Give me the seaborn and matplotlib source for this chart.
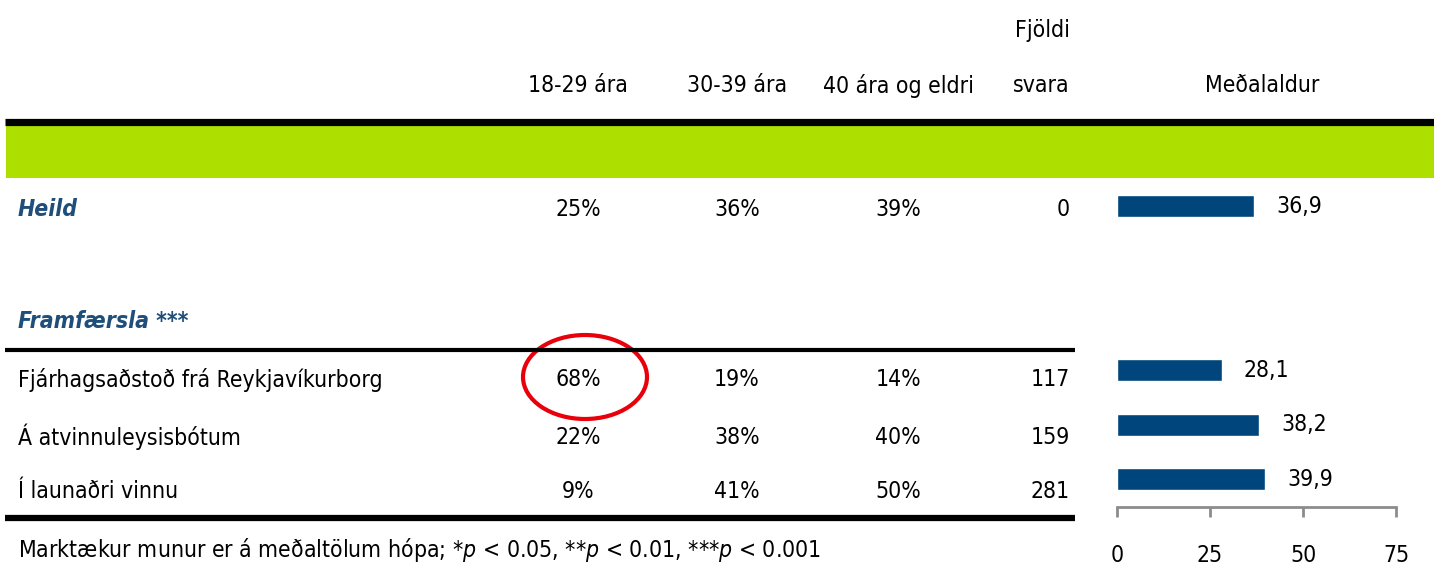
import pandas as pd
import matplotlib
matplotlib.use('Agg')
import matplotlib.pyplot as plt
import seaborn as sns
from matplotlib import font_manager
from matplotlib.patches import Ellipse

# data
col_labels = ['18-29 ára', '30-39 ára', '40 ára og eldri']
total_label = 'Heild'
total_pct = [25, 36, 39]
total_n = 0
total_mean = 36.9
group_title = 'Framfærsla ***'
group_labels = ['Fjárhagsaðstoð frá Reykjavíkurborg', 'Á atvinnuleysisbótum', 'Í launaðri vinnu']
group_pct = [[68, 19, 14], [22, 38, 40], [9, 41, 50]]
group_n = [117, 159, 281]
group_mean = [28.1, 38.2, 39.9]
x_ticks = [0, 25, 50, 75]
footnote = 'Marktækur munur er á meðaltölum hópa; *$p$ < 0.05, **$p$ < 0.01, ***$p$ < 0.001'

sns.set_theme(style='white')
names = {f.name for f in font_manager.fontManager.ttflist}
condensed = any(f.name == 'DejaVu Sans' and f.stretch == 'condensed'
                for f in font_manager.fontManager.ttflist)
narrow = 'Liberation Sans Narrow' if 'Liberation Sans Narrow' in names else 'DejaVu Sans'
plt.rcParams['font.family'] = [narrow, 'DejaVu Sans']
plt.rcParams['font.stretch'] = 'condensed'
plt.rcParams['text.color'] = 'black'
plt.rcParams['xtick.color'] = 'black'
plt.rcParams['mathtext.fontset'] = 'custom'
plt.rcParams['mathtext.rm'] = narrow
plt.rcParams['mathtext.it'] = narrow + ':italic'
if narrow != 'DejaVu Sans':
    fs = 19
elif condensed:
    fs = 16.5
else:
    fs = 14.5

W, H = 1434, 570
fig = plt.figure(figsize=(W / 100, H / 100), dpi=100)
ax = fig.add_axes([0, 0, 1, 1])
ax.set_xlim(0, W)
ax.set_ylim(H, 0)
ax.axis('off')

col_x = [578, 737, 898]
n_x = 1070
blue_txt = '#1F4E7A'
bar_col = '#00457C'

# header
ax.text(n_x, 30, 'Fjöldi', ha='right', va='center', fontsize=fs)
for x, lab in zip(col_x, col_labels):
    ax.text(x, 86, lab, ha='center', va='center', fontsize=fs)
ax.text(n_x, 86, 'svara', ha='right', va='center', fontsize=fs)
ax.text(1262, 86, 'Meðalaldur', ha='center', va='center', fontsize=fs)

# black rule + green band
ax.plot([5, W], [122, 122], color='black', lw=5.2, solid_capstyle='butt')
ax.fill_between([6, W], 125, 178, color='#ADDF00', lw=0)

# total row
ax.text(18, 210, total_label, ha='left', va='center', fontsize=fs,
        color=blue_txt, weight='bold', style='italic')
for x, v in zip(col_x, total_pct):
    ax.text(x, 210, f'{v}%', ha='center', va='center', fontsize=fs)
ax.text(n_x, 210, f'{total_n}', ha='right', va='center', fontsize=fs)

# group
ax.text(18, 322, group_title, ha='left', va='center', fontsize=fs,
        color=blue_txt, weight='bold', style='italic')
ax.plot([5, 1075], [350, 350], color='black', lw=3, solid_capstyle='butt')
row_y = [380, 437, 492]
for y, lab, pcts, n in zip(row_y, group_labels, group_pct, group_n):
    ax.text(18, y, lab, ha='left', va='center', fontsize=fs)
    for x, v in zip(col_x, pcts):
        ax.text(x, y, f'{v}%', ha='center', va='center', fontsize=fs)
    ax.text(n_x, y, f'{n}', ha='right', va='center', fontsize=fs)
ax.plot([5, 1075], [518, 518], color='black', lw=4.5, solid_capstyle='butt')

ax.text(18, 550, footnote, ha='left', va='center', fontsize=fs)

# highlight
ax.add_patch(Ellipse((585, 377), 124, 84, fill=False, edgecolor='#E8000B', lw=3))

# mean age bars
gap = [' ', '  ']
order = [total_label] + gap + group_labels
df = pd.DataFrame({'grp': [total_label] + group_labels,
                   'mean': [total_mean] + group_mean})
x0, x1 = 1117, 1396
y_top, y_axis = 179, 507
bax = fig.add_axes([x0 / W, 1 - y_axis / H, (x1 - x0) / W, (y_axis - y_top) / H])
sns.barplot(data=df, x='mean', y='grp', order=order, color=bar_col,
            saturation=1, width=0.4, ax=bax, orient='h')
bax.set_xlim(0, 75)
bax.set_ylim(5.51, -0.5)
bax.set_facecolor('none')
for c in bax.containers:
    bax.bar_label(c, labels=[f'{v:.1f}'.replace('.', ',') for v in c.datavalues],
                  padding=16, fontsize=fs)
bax.set_xticks(x_ticks)
bax.set_yticks([])
bax.set_xlabel('')
bax.set_ylabel('')
for s in ['top', 'right', 'left']:
    bax.spines[s].set_visible(False)
bax.spines['bottom'].set_color('#8C8C8C')
bax.spines['bottom'].set_linewidth(2)
bax.tick_params(axis='x', direction='out', length=7, width=2, color='#8C8C8C',
                labelcolor='black', labelsize=fs, pad=20, bottom=True)

fig.savefig('out.png', dpi=100)
